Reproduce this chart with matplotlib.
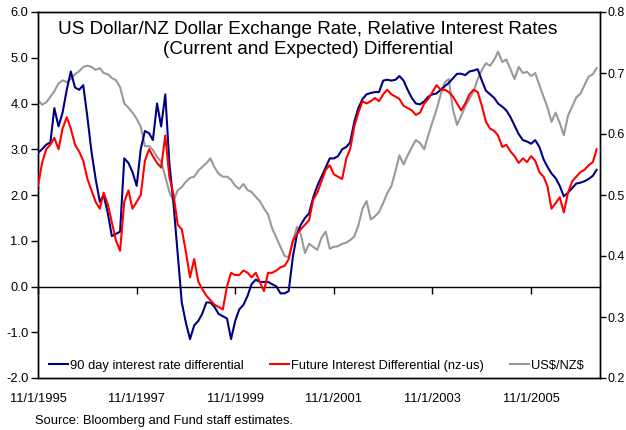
import matplotlib
matplotlib.use("Agg")
import matplotlib.pyplot as plt
from matplotlib.ticker import FormatStrFormatter
import pandas as pd

plt.rcParams['font.family'] = ['Liberation Sans', 'DejaVu Sans']

# ---------------- data (monthly, Nov 1995 .. Mar 2007) ----------------
dates = pd.date_range('1995-11-01', periods=137, freq='MS')

ir_90day = [
    2.92, 3.0, 3.1, 3.15, 3.9, 3.5, 3.8, 4.3, 4.7, 4.35, 4.3, 4.4,
    3.7, 2.95, 2.35, 1.85, 2.0, 1.6, 1.1, 1.15, 1.2, 2.8, 2.7, 2.5,
    2.2, 3.0, 3.4, 3.35, 3.2, 4.0, 3.5, 4.2, 2.7, 1.8, 0.7, -0.35,
    -0.8, -1.15, -0.85, -0.75, -0.6, -0.35, -0.35, -0.45, -0.6, -0.65, -0.7, -1.15,
    -0.75, -0.5, -0.4, -0.2, 0.05, 0.15, 0.1, 0.1, 0.1, 0.05, 0.0, -0.15,
    -0.15, -0.1, 0.65, 1.15, 1.35, 1.5, 1.6, 1.95, 2.2, 2.4, 2.6, 2.8,
    2.8, 2.85, 3.0, 3.05, 3.15, 3.6, 3.9, 4.1, 4.2, 4.23, 4.25, 4.25,
    4.5, 4.52, 4.5, 4.52, 4.6, 4.5, 4.3, 4.12, 4.0, 3.98, 4.05, 4.15,
    4.2, 4.22, 4.3, 4.38, 4.45, 4.55, 4.65, 4.65, 4.62, 4.7, 4.72, 4.75,
    4.5, 4.28, 4.2, 4.12, 4.0, 3.93, 3.85, 3.7, 3.52, 3.33, 3.2, 3.17,
    3.12, 3.2, 3.05, 2.78, 2.62, 2.47, 2.37, 2.2, 1.97, 2.05, 2.15, 2.25,
    2.27, 2.3, 2.35, 2.42, 2.55,
]

future_diff = [
    2.2, 2.7, 3.0, 3.1, 3.25, 3.0, 3.45, 3.7, 3.45, 3.1, 2.95, 2.75,
    2.35, 2.1, 1.85, 1.7, 2.05, 1.8, 1.4, 1.0, 0.78, 1.85, 2.1, 1.7,
    1.85, 2.0, 2.75, 3.0, 2.85, 2.7, 2.6, 3.3, 2.4, 2.0, 1.35, 1.25,
    0.75, 0.2, 0.6, 0.1, -0.05, -0.2, -0.3, -0.4, -0.45, -0.5, 0.0, 0.3,
    0.25, 0.25, 0.35, 0.3, 0.2, 0.3, 0.1, -0.1, 0.3, 0.3, 0.35, 0.42,
    0.45, 0.6, 1.0, 1.15, 1.25, 1.35, 1.45, 1.9, 2.05, 2.3, 2.55, 2.65,
    2.45, 2.4, 2.35, 2.8, 3.0, 3.5, 3.8, 4.05, 4.0, 4.05, 4.12, 4.05,
    4.2, 4.3, 4.2, 4.15, 4.1, 3.95, 3.9, 3.85, 3.75, 3.8, 4.0, 4.1,
    4.25, 4.4, 4.3, 4.3, 4.25, 4.15, 4.0, 3.85, 4.0, 4.2, 4.3, 4.25,
    3.95, 3.6, 3.45, 3.4, 3.3, 3.05, 3.1, 2.95, 2.85, 2.7, 2.8, 2.72,
    2.85, 2.75, 2.5, 2.4, 2.2, 1.7, 1.82, 1.95, 1.62, 2.05, 2.3, 2.4,
    2.5, 2.55, 2.65, 2.72, 3.0,
]

usd_nzd = [
    0.656, 0.648, 0.652, 0.661, 0.67, 0.683, 0.688, 0.685, 0.69, 0.698, 0.703, 0.71,
    0.712, 0.71, 0.705, 0.708, 0.7, 0.698, 0.692, 0.688, 0.677, 0.65, 0.643, 0.635,
    0.625, 0.612, 0.58, 0.58, 0.574, 0.562, 0.555, 0.53, 0.505, 0.49, 0.508, 0.513,
    0.522, 0.528, 0.53, 0.54, 0.546, 0.552, 0.56, 0.545, 0.535, 0.53, 0.53, 0.525,
    0.515, 0.51, 0.518, 0.508, 0.505, 0.497, 0.49, 0.478, 0.468, 0.445, 0.43, 0.415,
    0.4, 0.398, 0.425, 0.448, 0.435, 0.405, 0.42, 0.415, 0.41, 0.43, 0.44, 0.412,
    0.415, 0.416, 0.42, 0.422, 0.426, 0.432, 0.45, 0.478, 0.49, 0.46, 0.465, 0.472,
    0.487, 0.503, 0.515, 0.54, 0.565, 0.55, 0.565, 0.578, 0.59, 0.585, 0.575, 0.598,
    0.62, 0.64, 0.665, 0.685, 0.69, 0.64, 0.615, 0.63, 0.645, 0.658, 0.67, 0.69,
    0.705, 0.716, 0.712, 0.722, 0.735, 0.718, 0.722, 0.706, 0.69, 0.71, 0.7, 0.702,
    0.695, 0.7, 0.68, 0.661, 0.644, 0.62, 0.635, 0.618, 0.598, 0.63, 0.645, 0.66,
    0.666, 0.68, 0.694, 0.698, 0.708,
]

tick_dates = ['1995-11-01', '1997-11-01', '1999-11-01', '2001-11-01',
              '2003-11-01', '2005-11-01']
tick_labels = ['11/1/1995', '11/1/1997', '11/1/1999', '11/1/2001',
               '11/1/2003', '11/1/2005']
left_ticks = [-2.0, -1.0, 0.0, 1.0, 2.0, 3.0, 4.0, 5.0, 6.0]
right_ticks = [0.2, 0.3, 0.4, 0.5, 0.6, 0.7, 0.8]

labels = ['90 day interest rate differential',
          'Future Interest Differential (nz-us)',
          r'US\$/NZ\$']
title = 'US Dollar/NZ Dollar Exchange Rate, Relative Interest Rates\n(Current and Expected) Differential'
source = 'Source: Bloomberg and Fund staff estimates.'

# ---------------- figure ----------------
fig = plt.figure(figsize=(6.26, 4.30), dpi=100)
ax = fig.add_axes([38 / 626, 1 - 378 / 430, 562 / 626, 366 / 430])
ax2 = ax.twinx()

l1, = ax.plot(dates, ir_90day, color='#000080', lw=1.5, zorder=3)
l2, = ax.plot(dates, future_diff, color='#FF0000', lw=1.5, zorder=3)
l3, = ax2.plot(dates, usd_nzd, color='#999999', lw=1.5)

ax.set_ylim(-2.0, 6.0)
ax2.set_ylim(0.2, 0.8)
ax.set_xlim(pd.Timestamp('1995-11-01'), pd.Timestamp('2007-03-26'))

ax.set_yticks(left_ticks)
ax.yaxis.set_major_formatter(FormatStrFormatter('%.1f'))
ax2.set_yticks(right_ticks)
ax2.yaxis.set_major_formatter(FormatStrFormatter('%.1f'))

ax.tick_params(axis='y', direction='out', length=5, width=1, labelsize=9.3, pad=2)
ax2.tick_params(axis='y', direction='out', length=4, width=1, labelsize=9, pad=1.5)

# x axis: ticks on the zero line, labels at the bottom
tks = pd.to_datetime(tick_dates)
ax.spines['bottom'].set_position(('data', 0))
ax.set_xticks(tks)
ax.tick_params(axis='x', direction='out', length=5, width=1, labelbottom=False)
sec = ax.secondary_xaxis('bottom')
sec.set_xticks(tks)
sec.set_xticklabels(tick_labels)
sec.tick_params(axis='x', length=0, labelsize=9.3, pad=11)

for sp in ax.spines.values():
    sp.set_linewidth(1)
for sp in ax2.spines.values():
    sp.set_linewidth(1)
sec.spines['bottom'].set_linewidth(1)

ax.set_zorder(ax2.get_zorder() + 1)
ax.patch.set_visible(False)

ax.text(0.48, 0.975, title, transform=ax.transAxes, ha='center', va='top',
        fontsize=13.6, linespacing=1.22)

leg = ax.legend([l1, l2, l3], labels, loc='lower center', ncol=3,
                frameon=False, fontsize=9.3, handlelength=1.5,
                handletextpad=0.15, columnspacing=2.0,
                bbox_to_anchor=(0.495, -0.015))

fig.text(35 / 626, 1 - 421 / 430, source, ha='left', va='center', fontsize=9.3)

fig.savefig('out.png', dpi=100)
